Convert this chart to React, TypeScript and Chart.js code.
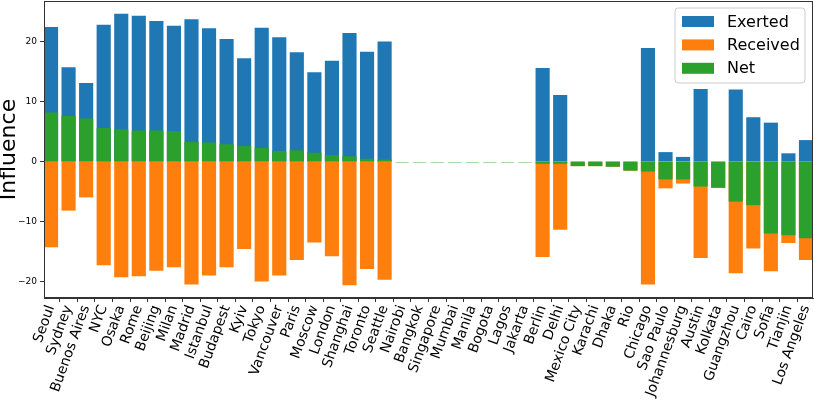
import React, { useEffect, useRef } from "react";
import { Chart, registerables } from "chart.js";

Chart.register(...registerables);

const cities = [
  "Seoul", "Sydney", "Buenos Aires", "NYC", "Osaka", "Rome", "Beijing", "Milan",
  "Madrid", "Istanbul", "Budapest", "Kyiv", "Tokyo", "Vancouver", "Paris", "Moscow",
  "London", "Shanghai", "Toronto", "Seattle", "Nairobi", "Bangkok", "Singapore",
  "Mumbai", "Manila", "Bogota", "Lagos", "Jakarta", "Berlin", "Delhi", "Mexico City",
  "Karachi", "Dhaka", "Rio", "Chicago", "Sao Paulo", "Johannesburg", "Austin",
  "Kolkata", "Guangzhou", "Cairo", "Sofia", "Tianjin", "Los Angeles",
];

const exerted = [
  22.3, 15.6, 13.0, 22.7, 24.5, 24.2, 23.3, 22.5, 23.6, 22.1, 20.3, 17.1, 22.2, 20.6,
  18.1, 14.8, 16.7, 21.3, 18.2, 19.9, 0, 0, 0, 0, 0, 0, 0, 0, 15.5, 11.0, 0, 0, 0, 0,
  18.8, 1.5, 0.7, 12.0, 0, 11.9, 7.3, 6.4, 1.3, 3.5,
];

const received = [
  -14.2, -8.1, -5.9, -17.2, -19.2, -19.0, -18.1, -17.5, -20.4, -18.9, -17.5, -14.5,
  -19.9, -18.9, -16.3, -13.4, -15.7, -20.5, -17.8, -19.6, 0, 0, 0, 0, 0, 0, 0, 0,
  -15.8, -11.3, -0.7, -0.7, -0.8, -1.45, -20.4, -4.4, -3.6, -16.0, -4.3, -18.5, -14.4,
  -18.2, -13.5, -16.3,
];

const net = [
  8.1, 7.5, 7.1, 5.5, 5.3, 5.1, 5.1, 5.0, 3.2, 3.1, 2.8, 2.5, 2.2, 1.7, 1.8, 1.4, 1.0,
  0.8, 0.4, 0.25, -0.15, -0.15, -0.15, -0.15, -0.15, -0.15, -0.15, -0.15, -0.3, -0.3,
  -0.7, -0.7, -0.8, -1.45, -1.6, -2.9, -2.9, -4.1, -4.3, -6.6, -7.2, -11.9, -12.2,
  -12.7,
];

const yTicks = [-20, -10, 0, 10, 20];
const yMin = -22.7;
const yMax = 26.7;
const xMin = -0.4;
const xMax = cities.length - 0.6;

const BLUE = "#1f77b4";
const ORANGE = "#ff7f0e";
const GREEN = "#2ca02c";
const FONT = '"DejaVu Sans", sans-serif';

const framePlugin = {
  id: "frameAndLegend",
  afterDraw(chart: any) {
    const { ctx, chartArea } = chart;
    ctx.save();
    ctx.strokeStyle = "#333";
    ctx.lineWidth = 1;
    ctx.strokeRect(
      chartArea.left + 0.5,
      chartArea.top + 0.5,
      chartArea.right - chartArea.left - 1,
      chartArea.bottom - chartArea.top - 1
    );

    const items = chart.data.datasets.map((d: any) => ({ label: d.label, color: d.backgroundColor }));
    const boxW = 130;
    const boxH = 75;
    const x0 = chartArea.right - 8 - boxW;
    const y0 = chartArea.top + 7;
    const r = 3;
    ctx.beginPath();
    ctx.moveTo(x0 + r, y0);
    ctx.lineTo(x0 + boxW - r, y0);
    ctx.quadraticCurveTo(x0 + boxW, y0, x0 + boxW, y0 + r);
    ctx.lineTo(x0 + boxW, y0 + boxH - r);
    ctx.quadraticCurveTo(x0 + boxW, y0 + boxH, x0 + boxW - r, y0 + boxH);
    ctx.lineTo(x0 + r, y0 + boxH);
    ctx.quadraticCurveTo(x0, y0 + boxH, x0, y0 + boxH - r);
    ctx.lineTo(x0, y0 + r);
    ctx.quadraticCurveTo(x0, y0, x0 + r, y0);
    ctx.closePath();
    ctx.fillStyle = "rgba(255,255,255,0.8)";
    ctx.fill();
    ctx.strokeStyle = "#cccccc";
    ctx.stroke();
    ctx.font = `16px ${FONT}`;
    ctx.textBaseline = "middle";
    ctx.textAlign = "left";
    items.forEach((it: any, i: number) => {
      const cy = y0 + 13.5 + i * 23.4;
      ctx.fillStyle = it.color;
      ctx.fillRect(x0 + 7, cy - 5.5, 32, 11);
      ctx.fillStyle = "#000";
      ctx.fillText(it.label, x0 + 52, cy + 1);
    });
    ctx.restore();
  },
};

export default function App() {
  const ref = useRef<HTMLCanvasElement>(null);

  useEffect(() => {
    document.body.style.margin = "0";
    const canvas = ref.current!;
    const barCommon = {
      grouped: false,
      barPercentage: 0.76,
      categoryPercentage: 1.0,
      borderWidth: 0,
      borderSkipped: false,
      inflateAmount: (c: any) => (c.raw && Math.abs(c.raw.y) < 0.2 ? 0 : 0.4),
    };
    const toPts = (arr: number[]) => arr.map((y, i) => ({ x: i, y }));
    const chart = new Chart(canvas, {
      type: "bar",
      data: {
        datasets: [
          { label: "Exerted", data: toPts(exerted), backgroundColor: BLUE, order: 3, ...barCommon },
          { label: "Received", data: toPts(received), backgroundColor: ORANGE, order: 2, ...barCommon },
          { label: "Net", data: toPts(net), backgroundColor: GREEN, order: 1, ...barCommon },
        ],
      } as any,
      options: {
        animation: false,
        responsive: false,
        devicePixelRatio: 1,
        layout: { padding: { left: 0, top: 1, right: 1, bottom: 0 } },
        plugins: {
          legend: { display: false },
          tooltip: { enabled: false },
        },
        scales: {
          x: {
            type: "linear",
            min: xMin,
            max: xMax,
            offset: false,
            grid: { drawOnChartArea: false, drawTicks: true, tickLength: 4, color: "#333" },
            border: { display: true, color: "#333" },
            ticks: {
              autoSkip: false,
              minRotation: 70,
              maxRotation: 70,
              padding: 1,
              color: "#000",
              font: { family: FONT, size: 14 },
              callback: (v: any) => cities[Math.round(Number(v))] ?? "",
            },
            afterBuildTicks: (scale: any) => {
              scale.ticks = cities.map((_, i) => ({ value: i }));
            },
            afterFit: (scale: any) => {
              scale.height = 103;
              scale.paddingLeft = 0;
              scale.paddingRight = 0;
            },
          },
          y: {
            min: yMin,
            max: yMax,
            grid: { drawOnChartArea: false, drawTicks: true, tickLength: 4, color: "#333" },
            border: { display: true, color: "#333" },
            ticks: {
              color: "#000",
              padding: 3,
              font: { family: FONT, size: 9 },
              callback: (v: any) => String(v).replace("-", "\u2212"),
            },
            afterBuildTicks: (scale: any) => {
              scale.ticks = yTicks.map((v) => ({ value: v }));
            },
            title: {
              display: true,
              text: "Influence",
              color: "#000",
              font: { family: FONT, size: 22, lineHeight: 0.8 },
              padding: { top: 0, bottom: 0 },
            },
            afterFit: (scale: any) => {
              scale.width = 44;
              scale.paddingTop = 0;
              scale.paddingBottom = 0;
            },
          },
        },
      } as any,
      plugins: [framePlugin],
    });
    return () => chart.destroy();
  }, []);

  return (
    <div style={{ width: 814, height: 401, position: "relative" }}>
      <canvas ref={ref} width={814} height={401} style={{ display: "block" }} />
    </div>
  );
}
